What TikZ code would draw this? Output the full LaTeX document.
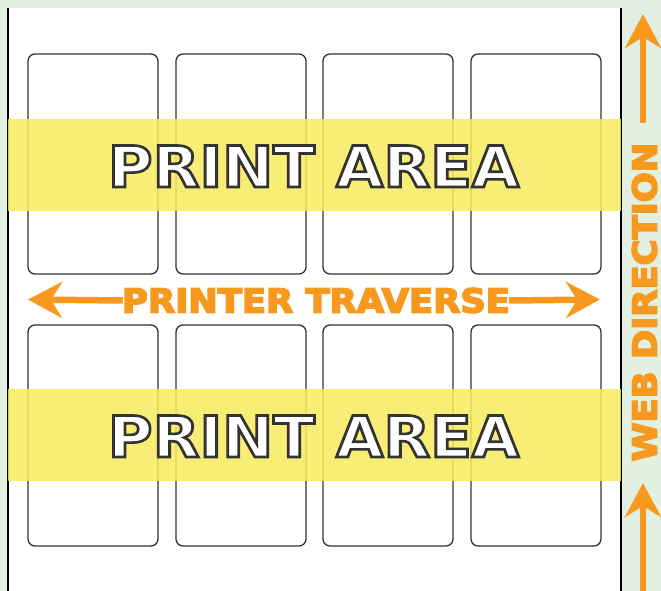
\documentclass[tikz,border=0pt]{standalone}
\usepackage{fontspec}
\setmainfont{DejaVu Sans}
\usetikzlibrary{arrows.meta}
\definecolor{bgreen}{HTML}{E2F0E2}
\definecolor{tyellow}{HTML}{F9EC5E}
\definecolor{torange}{HTML}{F7991F}
\definecolor{cardline}{HTML}{333333}
\newcommand{\outlinetext}[2]{\special{pdf:literal direct 2 Tr #1 w}#2\special{pdf:literal direct 0 Tr}}
\tikzset{
  card/.style={draw=cardline, line width=1.3pt, rounded corners=7pt, fill=white},
  band/.style={fill=tyellow, fill opacity=0.85},
  bigtext/.style={font=\bfseries\fontsize{57}{57}\selectfont, inner sep=0pt, text height=42pt, text depth=0pt},
  orangetext/.style={font=\bfseries\fontsize{33}{33}\selectfont, text=torange, inner sep=0pt, text height=24pt, text depth=0pt},
  orarrow/.style={draw=torange, line width=6.5pt, -{Stealth[length=34pt,width=36pt,inset=11pt]}},
}
\begin{document}
\begin{tikzpicture}[x=1pt,y=-1pt]
\useasboundingbox (0,0) rectangle (661,591);
\fill[bgreen] (0,0) rectangle (661,591);
\fill[white] (8,8) rectangle (621,591);
\draw[line width=1.3pt] (8,8) -- (8,591);
\draw[line width=1.3pt] (621,8) -- (621,591);
% cards
\foreach \x in {28,176,323,471}{
  \draw[card] (\x,54) rectangle ++(130,220);
  \draw[card] (\x,325) rectangle ++(130,221);
}
% bands
\fill[band] (8,119) rectangle (621,211);
\fill[band] (8,389) rectangle (621,481);
\node[bigtext, xscale=1.07] (pa1) at (313.5,166) {\textcolor{white}{\special{pdf:literal direct 0.2 G}\outlinetext{2.6}{PRINT AREA}}};
\node[bigtext, xscale=1.07] (pa2) at (313.5,436) {\textcolor{white}{\special{pdf:literal direct 0.2 G}\outlinetext{2.6}{PRINT AREA}}};
% printer traverse
\node[orangetext, xscale=1.07] (pt) at (316,300.5) {\outlinetext{1.6}{PRINTER TRAVERSE}};
\coordinate (ltip) at (28,299.5);
\coordinate (rtip) at (600,299.5);
\draw[orarrow] ([xshift=1pt]pt.west) -- (ltip);
\draw[orarrow] ([xshift=-1pt]pt.east) -- (rtip);
% web direction
\node[orangetext, rotate=90, xscale=1.07] (wd) at (644.5,302) {\outlinetext{1.6}{WEB DIRECTION}};
\coordinate (ttip) at (643,14);
\coordinate (tbase) at (643,123);
\coordinate (btip) at (643,483);
\coordinate (bbase) at (643,592);
\draw[orarrow] (tbase) -- (ttip);
\draw[orarrow] (bbase) -- (btip);
\end{tikzpicture}
\end{document}
